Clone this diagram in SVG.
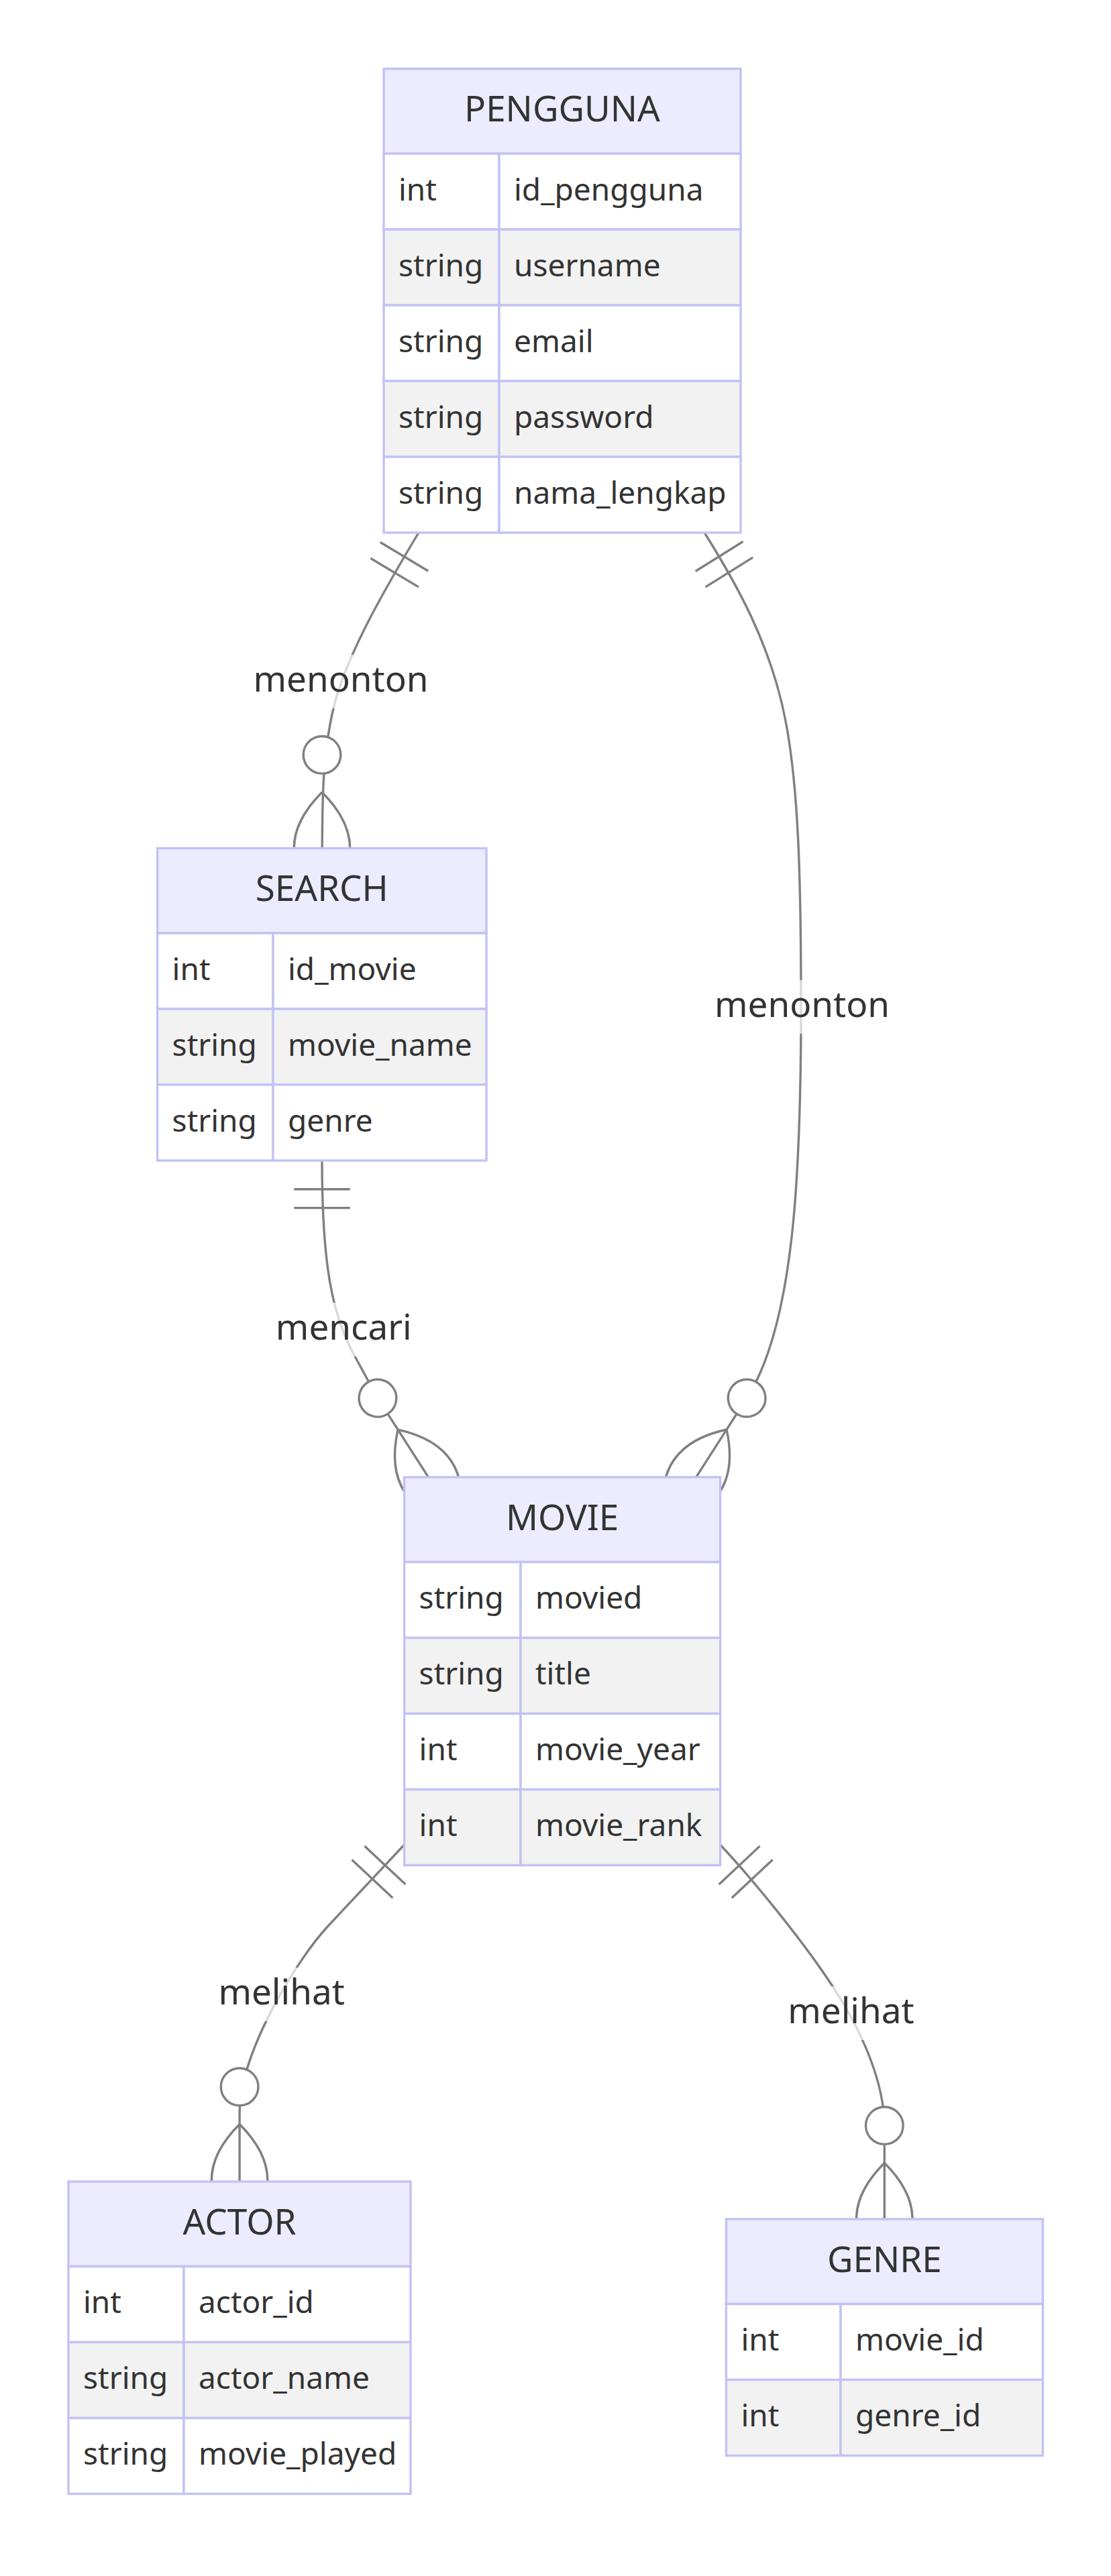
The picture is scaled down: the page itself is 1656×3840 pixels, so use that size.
<svg xmlns="http://www.w3.org/2000/svg" width="1656" height="3840" viewBox="0 0 1656 3840">
<style>
  .cell { stroke: #c2c2f6; stroke-width: 3.4; }
  .hdr { fill: #ececff; }
  .odd { fill: #ffffff; }
  .even { fill: #f2f2f2; }
  text { font-family: "Noto Sans", "Open Sans", "Liberation Sans", sans-serif; fill: #333333; }
  .title { font-size: 53px; text-anchor: middle; }
  .attr { font-size: 46px; }
  .lbl { font-size: 53px; text-anchor: middle; }
  .rel { fill: none; stroke: #808080; stroke-width: 3.4; }
  .lblbox { fill: #ffffff; opacity: 0.7; }
</style>
<defs>
  <marker id="oneStart" viewBox="0 0 18 18" refX="0" refY="9" markerWidth="83.5" markerHeight="83.5" markerUnits="userSpaceOnUse" orient="auto" overflow="visible">
    <path d="M9,0 L9,18 M15,0 L15,18" fill="none" stroke="#808080" stroke-width="0.733"/>
  </marker>
  <marker id="zeroManyEnd" viewBox="0 0 57 36" refX="57" refY="18" markerWidth="264.5" markerHeight="167" markerUnits="userSpaceOnUse" orient="auto" overflow="visible">
    <circle cx="9" cy="18" r="6" fill="#ffffff" stroke="#808080" stroke-width="0.733"/>
    <path d="M21,18 Q39,0 57,18 Q39,36 21,18" fill="none" stroke="#808080" stroke-width="0.733"/>
  </marker>
</defs>
<rect x="0" y="0" width="1656" height="3840" fill="#ffffff"/>

<g id="connectors">
  <path id="e-pengguna-search" class="rel" d="M624,794 C570,884 515,980 497,1056 S480,1200 480,1348" marker-start="url(#oneStart)" marker-end="url(#zeroManyEnd)"/>
  <path id="e-pengguna-movie" class="rel" d="M1050,794 C1095,866 1150,960 1172,1080 C1189.6,1176 1194,1300 1194,1500 C1194,1750 1183.5,1974.4 1113.3,2083.9 L992.9,2271.6" marker-start="url(#oneStart)" marker-end="url(#zeroManyEnd)"/>
  <path id="e-search-movie" class="rel" d="M480,1731 C480,1880 494,1960 529,2022 L562.9,2084.1 L683.2,2271.6" marker-start="url(#oneStart)" marker-end="url(#zeroManyEnd)"/>
  <path id="e-movie-actor" class="rel" d="M602.5,2750 L490,2870 C442.1,2921 357.1,3060 357.1,3150 L357.1,3333.5" marker-start="url(#oneStart)" marker-end="url(#zeroManyEnd)"/>
  <path id="e-movie-genre" class="rel" d="M1073.6,2750 C1114.6,2793.7 1200,2895 1250,2975 C1280,3023 1318.3,3100 1318.3,3170 L1318.3,3391.2" marker-start="url(#oneStart)" marker-end="url(#zeroManyEnd)"/>

  <g id="lbl-menonton-1">
    <rect class="lblbox" x="380" y="976" width="256" height="80"/>
    <text class="lbl" x="508" y="1030.5">menonton</text>
  </g>
  <g id="lbl-menonton-2">
    <rect class="lblbox" x="1067.5" y="1461" width="256" height="80"/>
    <text class="lbl" x="1195.5" y="1515.5">menonton</text>
  </g>
  <g id="lbl-mencari">
    <rect class="lblbox" x="412.5" y="1942" width="200" height="80"/>
    <text class="lbl" x="512.3" y="1996.5">mencari</text>
  </g>
  <g id="lbl-melihat-1">
    <rect class="lblbox" x="326" y="2933" width="187" height="80"/>
    <text class="lbl" x="419.6" y="2987.5">melihat</text>
  </g>
  <g id="lbl-melihat-2">
    <rect class="lblbox" x="1175" y="2961" width="187" height="80"/>
    <text class="lbl" x="1268.4" y="3015.5">melihat</text>
  </g>
</g>

<g id="PENGGUNA">
  <rect class="cell hdr" x="572" y="102.5" width="532" height="126.5"/>
  <text class="title" x="838" y="181">PENGGUNA</text>
  <rect class="cell odd" x="572" y="229" width="172" height="113"/>
  <rect class="cell odd" x="744" y="229" width="360" height="113"/>
  <rect class="cell even" x="572" y="342" width="172" height="113"/>
  <rect class="cell even" x="744" y="342" width="360" height="113"/>
  <rect class="cell odd" x="572" y="455" width="172" height="113"/>
  <rect class="cell odd" x="744" y="455" width="360" height="113"/>
  <rect class="cell even" x="572" y="568" width="172" height="113"/>
  <rect class="cell even" x="744" y="568" width="360" height="113"/>
  <rect class="cell odd" x="572" y="681" width="172" height="113"/>
  <rect class="cell odd" x="744" y="681" width="360" height="113"/>
  <text class="attr" x="594" y="298.5">int</text><text class="attr" x="766" y="298.5">id_pengguna</text>
  <text class="attr" x="594" y="411.5">string</text><text class="attr" x="766" y="411.5">username</text>
  <text class="attr" x="594" y="524.5">string</text><text class="attr" x="766" y="524.5">email</text>
  <text class="attr" x="594" y="637.5">string</text><text class="attr" x="766" y="637.5">password</text>
  <text class="attr" x="594" y="750.5">string</text><text class="attr" x="766" y="750.5">nama_lengkap</text>
</g>

<g id="SEARCH">
  <rect class="cell hdr" x="234.6" y="1264.5" width="490.4" height="126.5"/>
  <text class="title" x="479.8" y="1343">SEARCH</text>
  <rect class="cell odd" x="234.6" y="1391" width="172.4" height="113"/>
  <rect class="cell odd" x="407" y="1391" width="318" height="113"/>
  <rect class="cell even" x="234.6" y="1504" width="172.4" height="113"/>
  <rect class="cell even" x="407" y="1504" width="318" height="113"/>
  <rect class="cell odd" x="234.6" y="1617" width="172.4" height="113"/>
  <rect class="cell odd" x="407" y="1617" width="318" height="113"/>
  <text class="attr" x="256.6" y="1460.5">int</text><text class="attr" x="429" y="1460.5">id_movie</text>
  <text class="attr" x="256.6" y="1573.5">string</text><text class="attr" x="429" y="1573.5">movie_name</text>
  <text class="attr" x="256.6" y="1686.5">string</text><text class="attr" x="429" y="1686.5">genre</text>
</g>

<g id="MOVIE">
  <rect class="cell hdr" x="602.6" y="2202" width="471" height="126.5"/>
  <text class="title" x="838.1" y="2280.5">MOVIE</text>
  <rect class="cell odd" x="602.6" y="2328.5" width="173.4" height="113"/>
  <rect class="cell odd" x="776" y="2328.5" width="297.6" height="113"/>
  <rect class="cell even" x="602.6" y="2441.5" width="173.4" height="113"/>
  <rect class="cell even" x="776" y="2441.5" width="297.6" height="113"/>
  <rect class="cell odd" x="602.6" y="2554.5" width="173.4" height="113"/>
  <rect class="cell odd" x="776" y="2554.5" width="297.6" height="113"/>
  <rect class="cell even" x="602.6" y="2667.5" width="173.4" height="113"/>
  <rect class="cell even" x="776" y="2667.5" width="297.6" height="113"/>
  <text class="attr" x="624.6" y="2398">string</text><text class="attr" x="798" y="2398">movied</text>
  <text class="attr" x="624.6" y="2511">string</text><text class="attr" x="798" y="2511">title</text>
  <text class="attr" x="624.6" y="2624">int</text><text class="attr" x="798" y="2624">movie_year</text>
  <text class="attr" x="624.6" y="2737">int</text><text class="attr" x="798" y="2737">movie_rank</text>
</g>

<g id="ACTOR">
  <rect class="cell hdr" x="102" y="3252" width="510" height="126.5"/>
  <text class="title" x="357" y="3330.5">ACTOR</text>
  <rect class="cell odd" x="102" y="3378.5" width="172" height="113"/>
  <rect class="cell odd" x="274" y="3378.5" width="338" height="113"/>
  <rect class="cell even" x="102" y="3491.5" width="172" height="113"/>
  <rect class="cell even" x="274" y="3491.5" width="338" height="113"/>
  <rect class="cell odd" x="102" y="3604.5" width="172" height="113"/>
  <rect class="cell odd" x="274" y="3604.5" width="338" height="113"/>
  <text class="attr" x="124" y="3448">int</text><text class="attr" x="296" y="3448">actor_id</text>
  <text class="attr" x="124" y="3561">string</text><text class="attr" x="296" y="3561">actor_name</text>
  <text class="attr" x="124" y="3674">string</text><text class="attr" x="296" y="3674">movie_played</text>
</g>

<g id="GENRE">
  <rect class="cell hdr" x="1082.4" y="3308" width="472" height="126.5"/>
  <text class="title" x="1318.4" y="3386.5">GENRE</text>
  <rect class="cell odd" x="1082.4" y="3434.5" width="170.6" height="113"/>
  <rect class="cell odd" x="1253" y="3434.5" width="301.4" height="113"/>
  <rect class="cell even" x="1082.4" y="3547.5" width="170.6" height="113"/>
  <rect class="cell even" x="1253" y="3547.5" width="301.4" height="113"/>
  <text class="attr" x="1104.4" y="3504">int</text><text class="attr" x="1275" y="3504">movie_id</text>
  <text class="attr" x="1104.4" y="3617">int</text><text class="attr" x="1275" y="3617">genre_id</text>
</g>
</svg>
